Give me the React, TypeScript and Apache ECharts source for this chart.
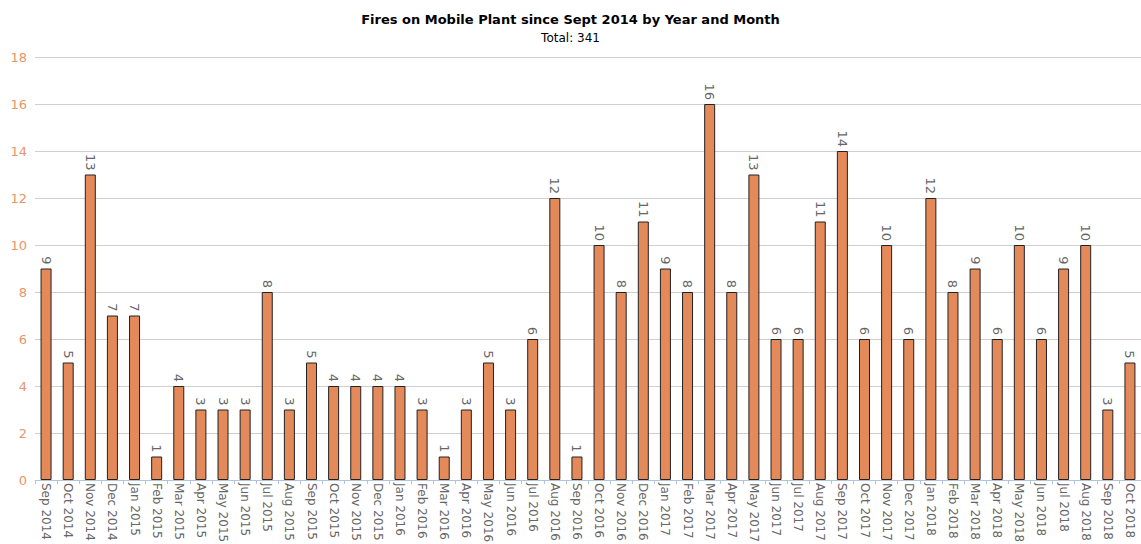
import React, { useEffect, useRef } from "react";
import * as echarts from "echarts";

const categories = [
  "Sep 2014", "Oct 2014", "Nov 2014", "Dec 2014",
  "Jan 2015", "Feb 2015", "Mar 2015", "Apr 2015", "May 2015", "Jun 2015", "Jul 2015", "Aug 2015", "Sep 2015", "Oct 2015", "Nov 2015", "Dec 2015",
  "Jan 2016", "Feb 2016", "Mar 2016", "Apr 2016", "May 2016", "Jun 2016", "Jul 2016", "Aug 2016", "Sep 2016", "Oct 2016", "Nov 2016", "Dec 2016",
  "Jan 2017", "Feb 2017", "Mar 2017", "Apr 2017", "May 2017", "Jun 2017", "Jul 2017", "Aug 2017", "Sep 2017", "Oct 2017", "Nov 2017", "Dec 2017",
  "Jan 2018", "Feb 2018", "Mar 2018", "Apr 2018", "May 2018", "Jun 2018", "Jul 2018", "Aug 2018", "Sep 2018", "Oct 2018",
];

const fires = [
  9, 5, 13, 7,
  7, 1, 4, 3, 3, 3, 8, 3, 5, 4, 4, 4,
  4, 3, 1, 3, 5, 3, 6, 12, 1, 10, 8, 11,
  9, 8, 16, 8, 13, 6, 6, 11, 14, 6, 10, 6,
  12, 8, 9, 6, 10, 6, 9, 10, 3, 5,
];

const titleText = "Fires on Mobile Plant since Sept 2014 by Year and Month";
const subText = "Total: 341";

export default function App() {
  const ref = useRef<HTMLDivElement>(null);
  useEffect(() => {
    if (!ref.current) return;
    const chart = echarts.init(ref.current, null, { renderer: "svg" });
    const font = "DejaVu Sans";
    chart.setOption({
      animation: false,
      title: {
        text: titleText,
        subtext: subText,
        left: "center",
        top: 8,
        itemGap: 6,
        textStyle: { fontFamily: font, fontSize: 13, fontWeight: "bold", color: "#000" },
        subtextStyle: { fontFamily: font, fontSize: 12, color: "#000" },
      },
      grid: { left: 35, right: 0, top: 57, bottom: 64, outerBoundsMode: "none", containLabel: false },
      xAxis: {
        type: "category",
        data: categories,
        axisLine: { lineStyle: { color: "#b0c4de", width: 1 } },
        axisTick: { show: true, alignWithLabel: false, length: 4, lineStyle: { color: "#b0c4de" } },
        axisLabel: {
          rotate: -90,
          interval: 0,
          fontFamily: font,
          fontSize: 12,
          color: "#666",
          margin: 3,
        },
      },
      yAxis: {
        type: "value",
        min: 0,
        max: 18,
        interval: 2,
        axisLine: { show: false },
        axisTick: { show: false },
        axisLabel: { fontFamily: font, fontSize: 13, color: "#e8956a", margin: 8 },
        splitLine: { lineStyle: { color: "#cfcfcf", width: 1 } },
      },
      series: [
        {
          type: "bar",
          data: fires,
          barWidth: 11,
          itemStyle: { color: "#e3895a", borderColor: "#222", borderWidth: 1 },
          label: {
            show: true,
            position: "top",
            rotate: -90,
            align: "right",
            verticalAlign: "middle",
            distance: 4,
            fontFamily: font,
            fontSize: 13,
            color: "#666",
          },
        },
      ],
    });
    return () => chart.dispose();
  }, []);
  return <div ref={ref} style={{ width: 1141, height: 544, position: "absolute", left: 0, top: 0 }} />;
}
